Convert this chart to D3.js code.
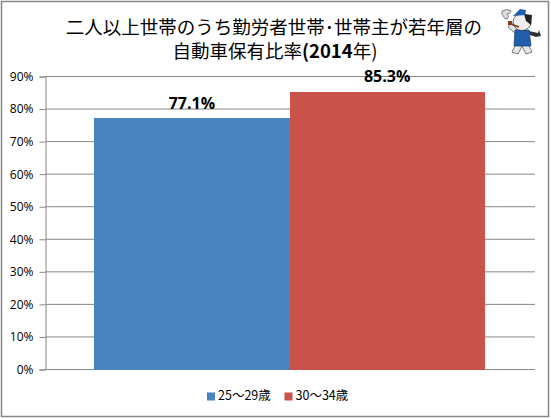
<!DOCTYPE html>
<html>
<head>
<meta charset="utf-8">
<style>
html, body { margin: 0; padding: 0; background: #fff; }
svg { display: block; }
text { font-family: "Noto Sans CJK JP", sans-serif; fill: #000; }
</style>
</head>
<body>
<svg id="chart" width="551" height="419"></svg>
<script src="https://cdn.jsdelivr.net/npm/d3@7"></script>
<script>
// values
var seriesNames = ['25～29歳', '30～34歳'];
var seriesValues = [77.1, 85.3];
var seriesColors = ['#4a82bd', '#c9534b'];
var tickValues = [0, 10, 20, 30, 40, 50, 60, 70, 80, 90];
var titleLine1 = '二人以上世帯のうち勤労者世帯･世帯主が若年層の';
var titleLine2 = ['自動車保有比率', '(2014', '年)'];

var svg = d3.select('#chart');

// chart frame
svg.append('rect')
    .attr('x', 1.5).attr('y', 1.5)
    .attr('width', 547).attr('height', 415)
    .attr('fill', '#fff')
    .attr('stroke', '#868686')
    .attr('stroke-width', 1.5);

var y = d3.scaleLinear().domain([0, 90]).range([369.5, 76.5]);
var x = d3.scaleBand()
    .domain(seriesNames)
    .range([45.5, 533.5])
    .paddingInner(0)
    .paddingOuter(0.25);

// y axis with gridlines
var yAxis = d3.axisLeft(y)
    .tickValues(tickValues)
    .tickFormat(function (d) { return d + '%'; })
    .tickSize(6)
    .tickPadding(6);

var gy = svg.append('g')
    .attr('transform', 'translate(45.5,0)')
    .call(yAxis);
gy.selectAll('.domain').attr('stroke', '#868686').attr('stroke-width', 1);
gy.selectAll('.tick line').attr('stroke', '#868686');
gy.selectAll('.tick text')
    .attr('font-size', 12)
    .style('font-family', '"Open Sans", sans-serif');

svg.append('g').selectAll('line')
    .data(tickValues)
    .join('line')
    .attr('x1', 45.5).attr('x2', 535)
    .attr('y1', function (d) { return y(d); })
    .attr('y2', function (d) { return y(d); })
    .attr('stroke', '#868686')
    .attr('stroke-width', 1);

// bars
svg.append('g').selectAll('rect')
    .data(seriesValues)
    .join('rect')
    .attr('x', function (d, i) { return x(seriesNames[i]); })
    .attr('y', function (d) { return y(d); })
    .attr('width', x.bandwidth())
    .attr('height', function (d) { return y(0) - y(d); })
    .attr('shape-rendering', 'crispEdges')
    .attr('fill', function (d, i) { return seriesColors[i]; });

// value labels
svg.append('g').selectAll('text')
    .data(seriesValues)
    .join('text')
    .attr('x', function (d, i) { return x(seriesNames[i]) + x.bandwidth() / 2; })
    .attr('y', function (d) { return y(d) - 9.5; })
    .attr('text-anchor', 'middle')
    .attr('font-size', 16)
    .attr('font-weight', 'bold')
    .style('font-family', '"Open Sans", sans-serif')
    .text(function (d) { return d.toFixed(1) + '%'; });

// title
svg.append('text')
    .attr('x', 274).attr('y', 34)
    .attr('text-anchor', 'middle')
    .attr('font-size', 18.5)
    .text(titleLine1);

var title2 = svg.append('text')
    .attr('x', 275).attr('y', 58)
    .attr('text-anchor', 'middle')
    .attr('font-size', 18.5);
title2.selectAll('tspan')
    .data(titleLine2)
    .join('tspan')
    .attr('font-weight', function (d, i) { return i === 1 ? 'bold' : 'normal'; })
    .text(function (d) { return d; });

// legend
var legendX = [207, 284.5];
var legend = svg.append('g').selectAll('g')
    .data(seriesNames)
    .join('g')
    .attr('transform', function (d, i) { return 'translate(' + legendX[i] + ',392.5)'; });
legend.append('rect')
    .attr('width', 8).attr('height', 8)
    .attr('fill', function (d, i) { return seriesColors[i]; });
legend.append('text')
    .attr('x', 11).attr('y', 7.5)
    .attr('font-size', 12.5)
    .text(function (d) { return d; });

// mascot, rough sketch of the cat in the corner
var cat = svg.append('g').attr('transform', 'translate(522,30)');
cat.append('path').attr('d', 'M-7,3 L-14,-3 L-11,-7 L-4,-2 Z').attr('fill', '#e4e4e4').attr('stroke', '#444').attr('stroke-width', .7);
cat.append('path').attr('d', 'M-6,14 L-10,22 L-4,24 L0,16 L4,24 L10,22 L6,14 Z').attr('fill', '#e8e8e8').attr('stroke', '#444').attr('stroke-width', .7);
cat.append('path').attr('d', 'M-7,0 L7,0 L9,16 L-8,16 Z').attr('fill', '#1f5fae').attr('stroke', '#123a70').attr('stroke-width', .7);
cat.append('path').attr('d', 'M7,1 L16,3 L17,0 L19,6 L14,7 L8,5 Z').attr('fill', '#333');
cat.append('ellipse').attr('cx', 0).attr('cy', -8).attr('rx', 9).attr('ry', 8.5).attr('fill', '#eee').attr('stroke', '#333').attr('stroke-width', .7);
cat.append('path').attr('d', 'M2,-16 L10,-15 L9,-5 L4,-9 Z').attr('fill', '#222');
cat.append('path').attr('d', 'M-9,-14 L-6,-17 L-2,-21 L4,-20 L3,-15 Z').attr('fill', '#1f5fae');
cat.append('path').attr('d', 'M-3,-3 L-11,-6').attr('stroke', '#7a3b14').attr('stroke-width', 1.6);
cat.append('path').attr('d', 'M-14,-9 h4 v4 h-4 Z').attr('fill', '#8a3a1a');
cat.append('path').attr('d', 'M-20,-19 q5,-3 9,0 q-1,3 -4,3 q3,2 0,5 q-3,0 -3,-2 q-3,-2 -2,-6').attr('fill', '#ddd').attr('stroke', '#666').attr('stroke-width', .8);
</script>
</body>
</html>
